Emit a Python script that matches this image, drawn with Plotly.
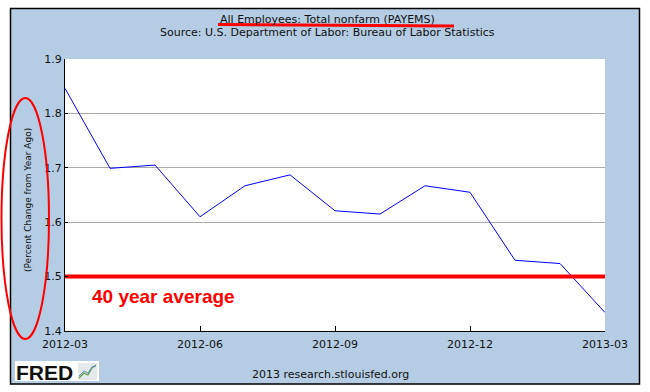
import plotly.graph_objects as go

# ---- data ----
months = ["2012-03", "2012-04", "2012-05", "2012-06", "2012-07", "2012-08", "2012-09",
          "2012-10", "2012-11", "2012-12", "2013-01", "2013-02", "2013-03"]
pct_change = [1.846, 1.699, 1.705, 1.610, 1.667, 1.687, 1.621,
              1.615, 1.667, 1.655, 1.530, 1.524, 1.434]
avg_months = ["2012-03", "2013-03"]
avg_value = [1.5, 1.5]
tick_months = ["2012-03", "2012-06", "2012-09", "2012-12", "2013-03"]
y_ticks = [1.4, 1.5, 1.6, 1.7, 1.8, 1.9]

# ---- layout helpers (page pixel -> paper) ----
W, H = 650, 392
L, R, T, B = 65, 605, 59, 331  # plot area in pixels


def px(x):
    return (x - L) / (R - L)


def py(y):
    return (B - y) / (B - T)


BLUE_BG = "#b4cde4"
FONT = "DejaVu Sans"

xi = [months.index(m) for m in months]
avg_x = [months.index(m) for m in avg_months]
tick_x = [months.index(m) for m in tick_months]

fig = go.Figure()
fig.add_trace(go.Scatter(x=xi, y=pct_change, mode="lines",
                         line=dict(color="#0000ff", width=1), hoverinfo="skip"))
fig.add_trace(go.Scatter(x=avg_x, y=avg_value, mode="lines",
                         line=dict(color="#ff0000", width=4), hoverinfo="skip"))

shapes = []
# white strips outside the blue panel
for x0, x1, y0, y1 in [(-5, W + 5, -5, 8), (-5, 10, -5, H + 5), (640, W + 5, -5, H + 5), (-5, W + 5, 384.5, H + 5)]:
    shapes.append(dict(type="rect", xref="paper", yref="paper", x0=px(x0), x1=px(x1), y0=py(y0), y1=py(y1),
                       fillcolor="white", line=dict(width=0), layer="below"))
# panel border
shapes.append(dict(type="rect", xref="paper", yref="paper", x0=px(10.5), x1=px(639.5), y0=py(8.5), y1=py(384),
                   line=dict(color="black", width=1.5)))
# FRED logo box
shapes.append(dict(type="rect", xref="paper", yref="paper", x0=px(15), x1=px(99), y0=py(361), y1=py(381),
                   fillcolor="white", line=dict(width=0)))
shapes.append(dict(type="rect", xref="paper", yref="paper", x0=px(78), x1=px(97), y0=py(363), y1=py(380),
                   fillcolor="#e6e9ec", line=dict(width=0)))
shapes.append(dict(type="path", xref="paper", yref="paper",
                   path="M {} {} L {} {} L {} {} L {} {} L {} {}".format(
                       px(79), py(378), px(84), py(373), px(88), py(375), px(92), py(368), px(96), py(365)),
                   line=dict(color="#5a9e3c", width=1.2)))
shapes.append(dict(type="path", xref="paper", yref="paper",
                   path="M {} {} L {} {} L {} {} L {} {} L {} {}".format(
                       px(79), py(376), px(84), py(371), px(88), py(373), px(92), py(367), px(96), py(366)),
                   line=dict(color="#5f8fc6", width=1)))
# red annotations
shapes.append(dict(type="line", xref="paper", yref="paper", x0=px(218), y0=py(24.5), x1=px(454), y1=py(26),
                   line=dict(color="#ff0000", width=3)))
shapes.append(dict(type="circle", xref="paper", yref="paper", x0=px(1.5), x1=px(49), y0=py(98), y1=py(339),
                   line=dict(color="#ff0000", width=2)))

annotations = [
    dict(text="All Employees: Total nonfarm (PAYEMS)", x=px(327), y=py(19), xref="paper", yref="paper",
         showarrow=False, font=dict(family=FONT, size=11, color="#111"), xanchor="center", yanchor="middle"),
    dict(text="Source: U.S. Department of Labor: Bureau of Labor Statistics", x=px(327), y=py(33),
         xref="paper", yref="paper", showarrow=False, font=dict(family=FONT, size=11, color="#111"),
         xanchor="center", yanchor="middle"),
    dict(text="(Percent Change from Year Ago)", x=px(28), y=py(200), xref="paper", yref="paper",
         showarrow=False, textangle=-90, font=dict(family=FONT, size=9, color="#111"),
         xanchor="center", yanchor="middle"),
    dict(text="<b>40 year average</b>", x=px(90), y=py(296), xref="paper", yref="paper", showarrow=False,
         font=dict(family="Liberation Sans", size=19, color="#ff0000"), xanchor="left", yanchor="middle"),
    dict(text="2013 research.stlouisfed.org", x=px(330), y=py(374), xref="paper", yref="paper",
         showarrow=False, font=dict(family=FONT, size=11, color="#111"), xanchor="center", yanchor="middle"),
    dict(text="<b>FRED</b>", x=px(14), y=py(372), xref="paper", yref="paper", showarrow=False,
         font=dict(family="Liberation Sans", size=21, color="#111"), xanchor="left", yanchor="middle"),
]

fig.update_layout(
    width=W, height=H,
    margin=dict(l=L, r=W - R, t=T, b=H - B, pad=0),
    paper_bgcolor=BLUE_BG, plot_bgcolor="white",
    showlegend=False, hovermode=False,
    shapes=shapes, annotations=annotations,
    xaxis=dict(range=[0, len(months) - 1], tickmode="array", tickvals=tick_x, ticktext=tick_months,
               ticks="inside", ticklen=5, tickcolor="black", showgrid=False, zeroline=False,
               showline=True, linecolor="black", linewidth=1, ticklabelstandoff=3,
               tickfont=dict(family=FONT, size=11, color="#111")),
    yaxis=dict(range=[1.4, 1.9], tickmode="array", tickvals=y_ticks, ticktext=[f"{v:.1f}" for v in y_ticks],
               ticks="inside", ticklen=3, tickcolor="black", showgrid=True, gridcolor="#aaaaaa", gridwidth=1,
               zeroline=False, showline=True, linecolor="black", linewidth=1,
               tickfont=dict(family=FONT, size=11, color="#111")),
)

fig.write_html("out.html", config={"displayModeBar": False},
               post_script="document.body.style.margin='0';document.body.style.overflow='hidden';")
